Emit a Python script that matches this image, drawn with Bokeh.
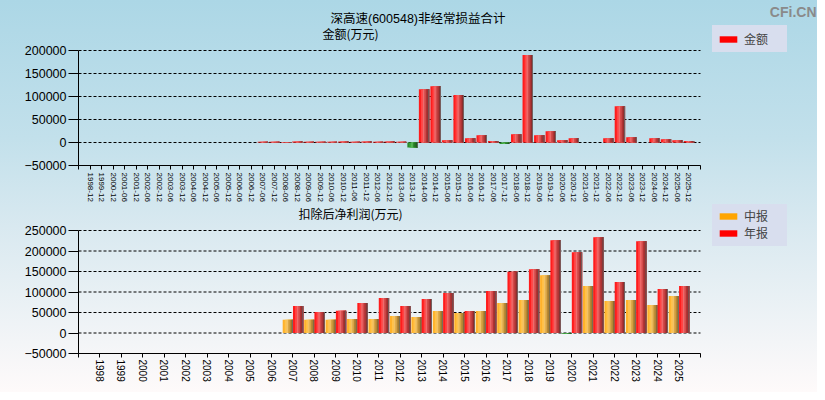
from bokeh.plotting import figure
from bokeh.layouts import column
from bokeh.models import (ColumnDataSource, Range1d, Label, Legend, LegendItem,
                          FixedTicker, BasicTickFormatter)
from bokeh.transform import dodge
from bokeh.core.properties import field
from bokeh.embed import file_html
from bokeh.resources import INLINE

# ---------------- data ----------------
title_text = "深高速(600548)非经常损益合计"
top_unit = "金额(万元)"
bottom_unit = "扣除后净利润(万元)"
watermark = "CFi.CN"

periods = ["1998-12", "1999-12", "2000-12",
           "2001-06", "2001-12", "2002-06", "2002-12", "2003-06", "2003-12",
           "2004-06", "2004-12", "2005-06", "2005-12", "2006-06", "2006-12",
           "2007-06", "2007-12", "2008-06", "2008-12", "2009-06", "2009-12",
           "2010-06", "2010-12", "2011-06", "2011-12", "2012-06", "2012-12",
           "2013-06", "2013-12", "2014-06", "2014-12", "2015-06", "2015-12",
           "2016-06", "2016-12", "2017-06", "2017-12", "2018-06", "2018-12",
           "2019-06", "2019-12", "2020-06", "2020-12", "2021-06", "2021-12",
           "2022-06", "2022-12", "2023-06", "2023-12", "2024-06", "2024-12",
           "2025-06", "2025-12"]
amount = [0, 0, 0,
          0, 0, 0, 0, 0, 0,
          0, 0, 0, 0, 0, 0,
          1800, 1500, 1200, 2000, 1600, 1900,
          1500, 2200, 1700, 2100, 1400, 2300,
          1800, -11000, 116000, 122500, 5000, 103000,
          9400, 16000, 3000, -3500, 18000, 190000,
          16000, 24600, 5000, 9400, 0, 0,
          9400, 79000, 11600, 0, 9400, 7200,
          5000, 3000]

years = ["1998", "1999", "2000", "2001", "2002", "2003", "2004", "2005", "2006",
         "2007", "2008", "2009", "2010", "2011", "2012", "2013", "2014", "2015",
         "2016", "2017", "2018", "2019", "2020", "2021", "2022", "2023", "2024", "2025"]
interim = [0, 0, 0, 0, 0, 0, 0, 0, 0,
           32500, 32500, 32500, 34000, 34000, 41400, 38900, 53500, 48700,
           53500, 73000, 80300, 141100, -2000, 114400, 77900, 80300, 68100, 90000]
annual = [0, 0, 0, 0, 0, 0, 0, 0, 0,
          65700, 51100, 54300, 73000, 85200, 65700, 82700, 97300, 53500,
          102200, 149300, 155700, 226300, 197100, 233600, 124100, 223900, 107100, 114400]

top_ticks = [-50000, 0, 50000, 100000, 150000, 200000]
bottom_ticks = [-50000, 0, 50000, 100000, 150000, 200000, 250000]

legend_top = ["金额"]
legend_bottom = ["中报", "年报"]

# ---------------- styles / layout geometry ----------------
FONT = "Liberation Sans, Noto Sans CJK SC"
CJK = "Noto Sans CJK SC, Liberation Sans"
FRACS = [0.0, 0.2, 0.38, 0.52, 0.68, 0.84, 0.92]
RED = ["#ff1c1c", "#ff4444", "#ee6c6c", "#d44a4a", "#ae3434", "#882a2a", "#6e6e6e"]
ORANGE = ["#ffb22a", "#ffc24c", "#f2c266", "#d8a444", "#b48634", "#8c6c2a", "#6e6e6e"]
GREEN = ["#2a8c2a", "#3aa83a", "#5cbc5c", "#2e8c2e", "#226e22", "#1a5a1a", "#6e6e6e"]

W = 817
LEFT = 78          # frame left edge (px)
AXIS_W = 622       # width of the drawn axis (px)
FRAME_W = W - LEFT


def add_bars(p, src, col, center, width, pos, neg):
    left = center - width / 2
    right = center + width / 2
    vals = src.data[col]
    for i, f in enumerate(FRACS):
        s = left + f * width
        key = f"{col}_c{i}"
        src.data[key] = [pos[i] if v >= 0 else neg[i] for v in vals]
        p.vbar(x=dodge("idx", (s + right) / 2), top=col,
               width=right - s, source=src, fill_color=field(key),
               line_color=None)


def make_fig(labels, ticks, height, frame_h, axis_h, xfont, std):
    n = len(labels)
    unit = AXIS_W / (n + 1)
    ymin, ymax = ticks[0], ticks[-1]
    ytop = ymin + (ymax - ymin) * frame_h / axis_h
    p = figure(width=W, height=height,
               x_range=Range1d(-1, -1 + FRAME_W / unit),
               y_range=Range1d(ymin, ytop),
               output_backend="svg", toolbar_location=None,
               min_border_left=LEFT, min_border_right=0,
               min_border_top=0, min_border_bottom=height - frame_h)
    p.background_fill_alpha = 0
    p.border_fill_alpha = 0
    p.outline_line_color = None
    p.xgrid.grid_line_color = None
    p.ygrid.grid_line_color = None
    # dashed horizontal grid lines across the axis extent
    p.segment(x0=[-1] * len(ticks), x1=[n] * len(ticks), y0=ticks, y1=ticks,
              line_color="black", line_width=1, line_dash="3 2")
    p.yaxis.bounds = (ymin, ymax)
    p.yaxis.ticker = FixedTicker(ticks=ticks)
    p.yaxis.formatter = BasicTickFormatter(use_scientific=False)
    p.yaxis.axis_line_color = "black"
    p.yaxis.major_tick_line_color = "black"
    p.yaxis.major_tick_in = 0
    p.yaxis.major_tick_out = 10
    p.yaxis.minor_tick_line_color = None
    p.yaxis.major_label_standoff = 2
    p.yaxis.major_label_text_font = FONT
    p.yaxis.major_label_text_font_size = "12.5px"
    p.yaxis.major_label_text_color = "black"
    xt = list(range(-1, n + 1))
    over = {i: "" for i in xt}
    for i, lab in enumerate(labels):
        over[i] = lab
    p.xaxis.bounds = (-1, n)
    p.xaxis.ticker = FixedTicker(ticks=xt)
    p.xaxis.major_label_overrides = over
    p.xaxis.axis_line_color = "black"
    p.xaxis.major_tick_line_color = "black"
    p.xaxis.major_tick_in = 0
    p.xaxis.major_tick_out = 4
    p.xaxis.minor_tick_line_color = None
    p.xaxis.major_label_orientation = "vertical"
    p.xaxis.major_label_standoff = std
    p.xaxis.major_label_text_font = FONT
    p.xaxis.major_label_text_font_size = xfont
    p.xaxis.major_label_text_color = "black"
    return p


def make_legend(items, loc):
    return Legend(items=items, location=loc, orientation="vertical",
                  background_fill_color="#d8deee", background_fill_alpha=1,
                  border_line_color="#d8deee", border_line_alpha=0,
                  padding=5, margin=0, spacing=0,
                  glyph_width=22, glyph_height=8, label_height=14,
                  label_width=38, label_standoff=5,
                  label_text_font=CJK, label_text_font_size="12px",
                  label_text_baseline="middle")


def text(p, x, y, s, size, font=CJK, align="left", color="black", style="normal"):
    p.add_layout(Label(x=x, y=y, x_units="screen", y_units="screen", text=s,
                       text_font=font, text_font_size=size, text_align=align,
                       text_baseline="middle", text_color=color,
                       text_font_style=style))


# ---------------- top chart ----------------
p1 = make_fig(periods, top_ticks, 204, 165, 115, "8px", 3)
src1 = ColumnDataSource(data=dict(idx=list(range(len(periods))), amount=amount))
add_bars(p1, src1, "amount", 0.0, 0.9, RED, GREEN)
dummy1 = p1.vbar(x=[0], top=[0], width=0.5, fill_color="#ff0000", line_color=None)
p1.add_layout(make_legend([LegendItem(label=legend_top[0], renderers=[dummy1])],
                          (634, 113)))
text(p1, 252, 147, title_text, "12.5px", font=FONT)
text(p1, 244, 132, top_unit, "12px")
text(p1, 738, 154, watermark, "14px", font=FONT, align="right",
     color="#8a8a8a", style="bold")

# ---------------- bottom chart ----------------
p2 = make_fig(years, bottom_ticks, 188, 149, 123, "10px", 2)
src2 = ColumnDataSource(data=dict(idx=list(range(len(years))),
                                  interim=interim, annual=annual))
add_bars(p2, src2, "interim", -0.24, 0.48, ORANGE, GREEN)
add_bars(p2, src2, "annual", 0.24, 0.48, RED, GREEN)
d_i = p2.vbar(x=[0], top=[0], width=0.5, fill_color="#ffa500", line_color=None)
d_a = p2.vbar(x=[0], top=[0], width=0.5, fill_color="#ff0000", line_color=None)
p2.add_layout(make_legend([LegendItem(label=legend_bottom[0], renderers=[d_i]),
                           LegendItem(label=legend_bottom[1], renderers=[d_a])],
                          (634, 107)))
text(p2, 220, 140, bottom_unit, "12px")

layout = column(p1, p2, spacing=0,
                styles={"background": "linear-gradient(to bottom, #acd7e6 0%, #c2e0eb 35%, #d9e9f0 58%, #fefafa 100%)"})

open("out.html", "w").write(file_html(layout, INLINE))
